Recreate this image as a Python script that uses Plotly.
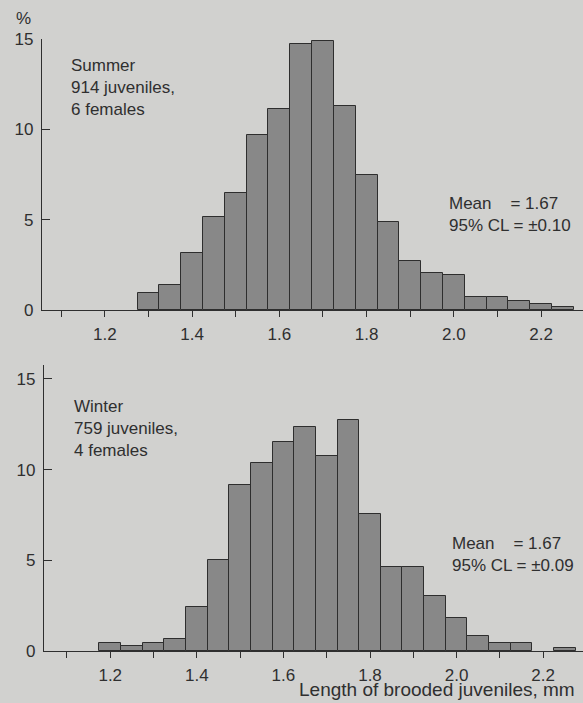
import plotly.graph_objects as go

# ---- data ----
bin_centers = [1.20, 1.25, 1.30, 1.35, 1.40, 1.45, 1.50, 1.55, 1.60, 1.65, 1.70,
               1.75, 1.80, 1.85, 1.90, 1.95, 2.00, 2.05, 2.10, 2.15, 2.20, 2.25]
summer_pct = [0.0, 0.0, 0.92, 1.37, 3.17, 5.13, 6.46, 9.70, 11.1, 14.74, 14.89,
              11.29, 7.45, 4.89, 2.71, 2.06, 1.94, 0.74, 0.74, 0.52, 0.33, 0.15]
winter_pct = [0.46, 0.26, 0.46, 0.65, 2.45, 5.02, 9.17, 10.39, 11.53, 12.36, 10.75,
              12.75, 7.58, 4.61, 4.61, 3.04, 1.84, 0.81, 0.43, 0.43, 0.0, 0.18]
x_tickvals = [1.1, 1.2, 1.3, 1.4, 1.5, 1.6, 1.7, 1.8, 1.9, 2.0, 2.1, 2.2]
x_ticktext = ["", "1.2", "", "1.4", "", "1.6", "", "1.8", "", "2.0", "", "2.2"]
y_tickvals = [0, 5, 10, 15]
summer_label = "Summer<br>914 juveniles,<br>6 females"
winter_label = "Winter<br>759 juveniles,<br>4 females"
summer_stats = "Mean\u00a0\u00a0\u00a0\u00a0= 1.67<br>95% CL = ±0.10"
winter_stats = "Mean\u00a0\u00a0\u00a0\u00a0= 1.67<br>95% CL = ±0.09"
x_title = "Length of brooded juveniles, mm"

W, H = 583, 703
BG = "#d1d1cf"
BAR = "#888888"
EDGE = "#2e2e2e"
INK = "#2f2f2f"
FONT = "Liberation Sans, Arial, sans-serif"


def px(x):
    return x / W


def py(y):
    return 1 - y / H


def nonzero(xs, ys):
    pairs = [(a, b) for a, b in zip(xs, ys) if b > 0]
    return [p[0] for p in pairs], [p[1] for p in pairs]


fig = go.Figure()
sx, sy = nonzero(bin_centers, summer_pct)
wx, wy = nonzero(bin_centers, winter_pct)
fig.add_trace(go.Bar(x=sx, y=sy, width=0.05, xaxis="x", yaxis="y",
                     marker=dict(color=BAR, line=dict(color=EDGE, width=1)),
                     showlegend=False))
fig.add_trace(go.Bar(x=wx, y=wy, width=0.05, xaxis="x2", yaxis="y2",
                     marker=dict(color=BAR, line=dict(color=EDGE, width=1)),
                     showlegend=False))

xcommon = dict(tickmode="array", tickvals=x_tickvals, ticktext=x_ticktext,
               ticks="outside", ticklen=6, tickwidth=1.2, tickcolor=INK,
               showline=True, linecolor=INK, linewidth=1.3, showgrid=False,
               zeroline=False, tickfont=dict(family=FONT, size=17, color=INK),
               ticklabelstandoff=2, automargin=False)
ycommon = dict(tickmode="array", tickvals=y_tickvals, ticks="inside", ticklen=8,
               tickwidth=1.2, tickcolor=INK, showline=True, linecolor=INK,
               linewidth=1.3, showgrid=False, zeroline=False,
               tickfont=dict(family=FONT, size=17, color=INK),
               ticklabelstandoff=4, automargin=False)

fig.update_layout(
    width=W, height=H,
    margin=dict(l=0, r=0, t=0, b=0, pad=0, autoexpand=False),
    paper_bgcolor=BG, plot_bgcolor=BG,
    bargap=0,
    font=dict(family=FONT, color=INK),
    xaxis=dict(domain=[px(42), 1], range=[1.056, 2.296], anchor="y", **xcommon),
    yaxis=dict(domain=[py(310), py(39)], range=[0, 15], anchor="x", **ycommon),
    xaxis2=dict(domain=[px(44), 1], range=[1.047, 2.292], anchor="y2", **xcommon),
    yaxis2=dict(domain=[py(651), py(365)], range=[0, 15.77], anchor="x2", **ycommon),
)

ann = [
    dict(text="%", x=px(23), y=py(19), xanchor="center", yanchor="middle", size=17),
    dict(text=summer_label, x=px(69), y=py(88), xanchor="left", yanchor="middle", size=17),
    dict(text=winter_label, x=px(72), y=py(428), xanchor="left", yanchor="middle", size=17),
    dict(text=summer_stats, x=px(447), y=py(214), xanchor="left", yanchor="middle", size=17),
    dict(text=winter_stats, x=px(450), y=py(554), xanchor="left", yanchor="middle", size=17),
    dict(text=x_title, x=px(297), y=py(689), xanchor="left", yanchor="middle", size=19),
]
for a in ann:
    fig.add_annotation(text=a["text"], x=a["x"], y=a["y"], xref="paper", yref="paper",
                       xanchor=a["xanchor"], yanchor=a["yanchor"], showarrow=False,
                       align="left", font=dict(family=FONT, size=a["size"], color=INK))

fig.write_html("out.html", config={"displayModeBar": False},
               post_script="document.body.style.margin='0';document.body.style.overflow='hidden';")
